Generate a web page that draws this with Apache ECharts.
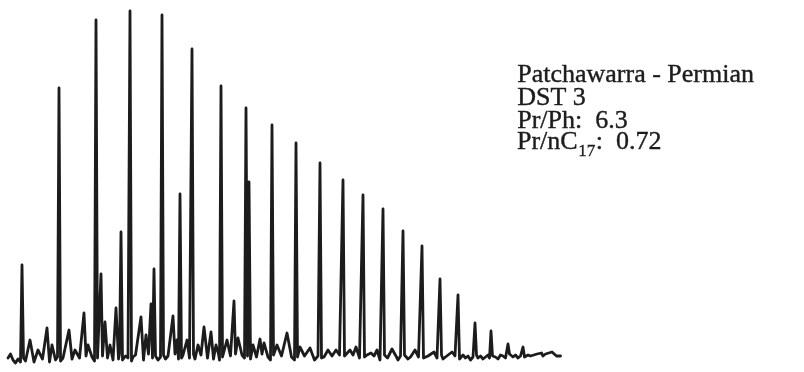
<!DOCTYPE html>
<html>
<head>
<meta charset="utf-8">
<script src="https://cdn.jsdelivr.net/npm/echarts@6/dist/echarts.min.js"></script>
<style>
  html, body { margin: 0; padding: 0; background: #fff; }
  #chart { width: 804px; height: 372px; }
</style>
</head>
<body>
<div id="chart"></div>
<script>
// Whole-oil gas chromatogram, Patchawarra Formation (Permian), DST 3.
// Retention time in minutes, detector response in arbitrary units.

// n-alkanes and other well-resolved peaks
const majorTimes   = [2.2, 5.9, 9.6, 10.1, 12.1, 13.0, 15.4, 16.2, 18.0, 19.2, 22.1, 23.4, 24.6, 24.9,
                      27.2, 29.6, 32.0, 34.3, 36.3, 38.3, 40.3, 42.2, 44.0, 45.8, 47.5, 49.1, 50.8, 52.3];
const majorHeights = [107, 284, 352, 98, 140, 361, 103, 357, 178, 323, 286, 71, 264, 190,
                      247, 229, 209, 192, 177, 163, 141, 126, 93, 77, 49, 41, 28, 25];

// small, broader components between the main peaks
const minorTimes   = [3.0, 3.8, 4.7, 5.2, 6.9, 7.5, 8.4, 8.8, 10.5, 11.0, 11.6, 14.1, 14.6, 15.1,
                      17.3, 17.7, 18.7, 19.8, 20.4, 21.1, 21.6, 22.7, 23.8, 25.3, 26.0, 26.4, 27.7,
                      28.7, 30.0, 31.0, 32.8, 33.6, 35.0, 35.6, 37.1, 37.7, 39.2, 41.5, 43.4, 45.2,
                      53.7, 55.2];
const minorHeights = [32, 22, 44, 27, 42, 22, 59, 27, 50, 27, 64, 55, 37, 68,
                      56, 32, 32, 27, 45, 40, 27, 32, 34, 27, 33, 29, 27,
                      39, 25, 24, 22, 22, 22, 25, 19, 22, 23, 22, 20, 20,
                      18, 20];

// detector baseline with its noise, sampled every 0.25 min from 0.8 min
const baselineStart = 0.8;
const baselineStep = 0.25;
const baselineLevels = [
  14, 18, 12, 9, 13, 10, 14, 11, 9, 13, 10, 14, 12, 9, 13, 11, 15, 10, 13, 12,
  15, 11, 14, 12, 16, 11, 13, 15, 12, 14, 11, 16, 13, 12, 15, 11, 14, 13, 16, 12,
  14, 17, 12, 15, 13, 18, 12, 16, 14, 11, 15, 17, 13, 16, 12, 15, 18, 13, 14, 16,
  12, 15, 17, 13, 16, 12, 15, 18, 13, 14, 17, 12, 16, 14, 18, 13, 15, 17, 12, 16,
  14, 17, 13, 16, 18, 12, 15, 17, 13, 16, 14, 18, 12, 15, 17, 14, 16, 13, 17, 15,
  13, 16, 18, 14, 15, 12, 17, 15, 13, 16, 14, 17, 13, 15, 16, 12, 15, 17, 14, 16,
  13, 15, 17, 12, 16, 14, 15, 13, 17, 14, 16, 12, 15, 17, 13, 16, 14, 15, 17, 13,
  16, 14, 12, 15, 17, 13, 16, 14, 15, 12, 16, 17, 14, 13, 16, 15, 12, 16, 14, 17,
  13, 15, 16, 12, 15, 17, 14, 13, 16, 15, 12, 16, 14, 17, 13, 15, 16, 14, 12, 16,
  15, 13, 17, 14, 16, 12, 15, 17, 14, 16, 13, 15, 17, 14, 16, 15, 13, 17, 16, 14,
  16, 18, 15, 17, 14, 16, 18, 15, 17, 16, 18, 15, 17, 19, 16, 18, 17, 15, 18, 16,
  17, 16
];

const MAJOR_HALF_WIDTH = 0.15;
const MINOR_HALF_WIDTH = 0.45;

const baseline = baselineLevels.map((v, i) => [baselineStart + i * baselineStep, v]);

function nearestBaseline(t) {
  let i = Math.round((t - baselineStart) / baselineStep);
  i = Math.max(0, Math.min(baselineLevels.length - 1, i));
  return baselineLevels[i];
}

const peaks = majorTimes.map((t, i) => ({ t, h: majorHeights[i], w: MAJOR_HALF_WIDTH }))
  .concat(minorTimes.map((t, i) => ({ t, h: minorHeights[i], w: MINOR_HALF_WIDTH })))
  .sort((a, b) => a.t - b.t);

// each peak becomes foot - apex - foot; neighbouring feet never cross
const spans = [];
const trace = [];
peaks.forEach((p, i) => {
  let left = p.t - p.w;
  let right = p.t + p.w;
  if (i > 0) left = Math.max(left, (peaks[i - 1].t + p.t) / 2);
  if (i < peaks.length - 1) right = Math.min(right, (peaks[i + 1].t + p.t) / 2);
  spans.push([left, right]);
  trace.push([left, nearestBaseline(left)], [p.t, p.h], [right, nearestBaseline(right)]);
});
baseline.forEach(pt => {
  if (!spans.some(s => pt[0] >= s[0] && pt[0] <= s[1])) trace.push(pt);
});
trace.sort((a, b) => a[0] - b[0]);

// ---- annotation block ----
const ink = '#1c1c1c';
const serif = 'Liberation Serif';
const mainFont = '26px "' + serif + '"';
const subFont = '17px "' + serif + '"';
const blockLeft = 517;
const blockTop = 62;
const lineGap = 23;

const measureCtx = document.createElement('canvas').getContext('2d');
function textWidth(str, font) {
  measureCtx.font = font;
  return measureCtx.measureText(str).width;
}

// last line is assembled from pieces so the "17" can sit as a true subscript
const ratioLineY = blockTop + 3 * lineGap + lineGap / 2;
const head = 'Pr/nC', sub = '17', tail = ':  0.72';
const headW = textWidth(head, mainFont);
const subW = textWidth(sub, subFont);

function piece(str, x, y, font, lw) {
  return {
    type: 'text', x: x, y: y, silent: true,
    style: { text: str, font: font, fill: ink, stroke: ink, lineWidth: lw, align: 'left', verticalAlign: 'middle' }
  };
}

const chart = echarts.init(document.getElementById('chart'), null, { renderer: 'canvas' });
chart.setOption({
  animation: false,
  backgroundColor: '#ffffff',
  grid: { left: 0, right: 0, top: 0, bottom: 0 },
  xAxis: { type: 'value', min: 0, max: 80.4, show: false },
  yAxis: { type: 'value', min: 0, max: 372, show: false },
  series: [{
    type: 'line',
    data: trace,
    symbol: 'none',
    lineStyle: { color: ink, width: 2.8, join: 'round', cap: 'round' }
  }],
  graphic: [
    {
      type: 'text',
      left: blockLeft,
      top: blockTop,
      silent: true,
      style: {
        text: '{m|Patchawarra - Permian}\n{m|DST 3}\n{m|Pr/Ph:  6.3}',
        rich: {
          m: { fontFamily: serif, fontSize: 26, lineHeight: lineGap, fill: ink, stroke: ink, lineWidth: 0.4 }
        }
      }
    },
    piece(head, blockLeft, ratioLineY, mainFont, 0.4),
    piece(sub, blockLeft + headW + 0.5, ratioLineY + 9, subFont, 0.3),
    piece(tail, blockLeft + headW + subW + 1, ratioLineY, mainFont, 0.4)
  ]
});
</script>
</body>
</html>
